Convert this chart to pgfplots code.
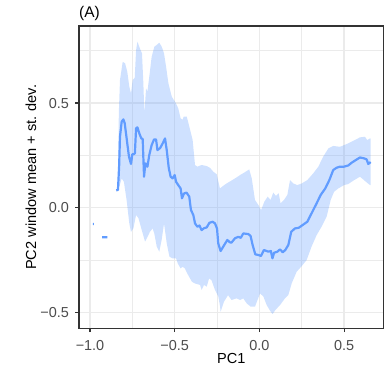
\documentclass[border=0pt]{standalone}
\usepackage{fontspec}
\setmainfont{Liberation Sans}
\usepackage{pgfplots}
\usepackage{pgfplotstable}
\pgfplotsset{compat=1.18}
\usepgfplotslibrary{fillbetween}

\definecolor{meanblue}{HTML}{619CFF}
\definecolor{grid92}{HTML}{EBEBEB}
\definecolor{gray20}{HTML}{333333}
\definecolor{gray30}{HTML}{4D4D4D}

% window mean of PC2 along PC1 (nan = gap)
\pgfplotstableread{
x y
-0.983 -0.078
-0.977 -0.078
nan nan
-0.928 -0.141
-0.897 -0.141
nan nan
-0.845 0.083
-0.835 0.085
-0.828 0.200
-0.823 0.339
-0.813 0.411
-0.803 0.422
-0.795 0.403
-0.785 0.339
-0.770 0.244
-0.758 0.209
-0.750 0.256
-0.741 0.256
-0.735 0.260
-0.728 0.379
-0.720 0.384
-0.709 0.355
-0.697 0.331
-0.689 0.328
-0.681 0.148
-0.673 0.212
-0.661 0.196
-0.650 0.252
-0.636 0.299
-0.622 0.326
-0.610 0.326
-0.602 0.275
-0.586 0.285
-0.571 0.307
-0.557 0.331
-0.547 0.275
-0.535 0.190
-0.524 0.148
-0.512 0.140
-0.500 0.156
-0.492 0.124
-0.479 0.108
-0.465 0.092
-0.457 0.045
-0.445 0.068
-0.430 0.072
-0.414 0.053
-0.404 -0.011
-0.390 -0.035
-0.380 -0.075
-0.366 -0.091
-0.354 -0.085
-0.341 -0.107
-0.327 -0.098
-0.311 -0.094
-0.295 -0.072
-0.276 -0.067
-0.262 -0.075
-0.250 -0.100
-0.243 -0.170
-0.229 -0.207
-0.209 -0.180
-0.189 -0.154
-0.175 -0.165
-0.165 -0.167
-0.144 -0.146
-0.124 -0.139
-0.110 -0.144
-0.095 -0.123
-0.065 -0.126
-0.052 -0.135
-0.040 -0.178
-0.024 -0.223
-0.004 -0.226
0.009 -0.231
0.027 -0.202
0.053 -0.210
0.068 -0.207
0.077 -0.242
0.087 -0.215
0.106 -0.210
0.122 -0.199
0.138 -0.213
0.153 -0.202
0.171 -0.178
0.188 -0.115
0.210 -0.099
0.232 -0.096
0.255 -0.083
0.283 -0.067
0.308 -0.027
0.338 0.021
0.362 0.061
0.389 0.092
0.413 0.132
0.436 0.180
0.456 0.191
0.475 0.196
0.499 0.196
0.525 0.202
0.545 0.215
0.564 0.225
0.594 0.240
0.617 0.236
0.633 0.231
0.643 0.209
0.657 0.218
}\meantab

% mean + st. dev.
\pgfplotstableread{
x y
-0.835 0.084
-0.830 0.450
-0.823 0.610
-0.807 0.697
-0.793 0.690
-0.780 0.650
-0.768 0.578
-0.758 0.546
-0.748 0.610
-0.736 0.620
-0.728 0.753
-0.720 0.793
-0.705 0.760
-0.693 0.737
-0.685 0.594
-0.679 0.450
-0.669 0.570
-0.661 0.555
-0.650 0.626
-0.636 0.721
-0.620 0.769
-0.607 0.777
-0.591 0.788
-0.577 0.770
-0.563 0.737
-0.551 0.674
-0.537 0.594
-0.517 0.530
-0.498 0.506
-0.479 0.475
-0.465 0.427
-0.453 0.420
-0.447 0.435
-0.429 0.435
-0.419 0.405
-0.394 0.323
-0.380 0.204
-0.366 0.196
-0.341 0.204
-0.311 0.199
-0.291 0.190
-0.272 0.172
-0.252 0.160
-0.233 0.092
-0.213 0.105
-0.193 0.116
-0.164 0.130
-0.134 0.145
-0.114 0.156
-0.085 0.170
-0.060 0.183
-0.045 0.140
-0.026 0.037
-0.006 0.013
0.010 -0.011
0.030 0.030
0.049 0.053
0.066 0.037
0.082 0.072
0.098 0.056
0.114 0.069
0.125 0.021
0.145 0.037
0.165 0.061
0.181 0.132
0.200 0.116
0.224 0.108
0.250 0.116
0.283 0.132
0.318 0.164
0.348 0.196
0.377 0.244
0.407 0.283
0.436 0.295
0.476 0.291
0.515 0.304
0.555 0.320
0.594 0.336
0.623 0.339
0.637 0.323
0.653 0.331
0.657 0.330
}\uptab

% mean - st. dev.
\pgfplotstableread{
x y
-0.835 0.084
-0.827 0.100
-0.813 0.140
-0.800 0.124
-0.784 0.037
-0.768 -0.075
-0.758 -0.115
-0.744 -0.099
-0.728 -0.035
-0.714 -0.050
-0.700 -0.091
-0.675 -0.162
-0.661 -0.140
-0.646 -0.115
-0.630 -0.099
-0.620 -0.125
-0.606 -0.186
-0.591 -0.210
-0.577 -0.154
-0.563 -0.075
-0.547 -0.170
-0.531 -0.234
-0.512 -0.242
-0.492 -0.242
-0.482 -0.266
-0.465 -0.290
-0.453 -0.282
-0.440 -0.290
-0.426 -0.314
-0.398 -0.354
-0.380 -0.362
-0.350 -0.369
-0.341 -0.393
-0.327 -0.369
-0.311 -0.377
-0.297 -0.338
-0.283 -0.346
-0.262 -0.393
-0.242 -0.425
-0.232 -0.473
-0.229 -0.497
-0.209 -0.449
-0.185 -0.418
-0.164 -0.441
-0.134 -0.433
-0.114 -0.441
-0.095 -0.433
-0.075 -0.457
-0.051 -0.473
-0.026 -0.473
0.004 -0.409
0.024 -0.425
0.043 -0.465
0.063 -0.492
0.078 -0.508
0.094 -0.489
0.122 -0.465
0.151 -0.433
0.171 -0.417
0.191 -0.361
0.220 -0.306
0.250 -0.279
0.279 -0.250
0.308 -0.186
0.338 -0.131
0.367 -0.091
0.397 -0.043
0.421 0.037
0.441 0.076
0.466 0.092
0.500 0.108
0.525 0.113
0.554 0.129
0.594 0.148
0.629 0.124
0.653 0.108
0.657 0.108
}\lowtab

\begin{document}
\begin{tikzpicture}
\begin{axis}[
    scale only axis,
    width=304.7bp, height=302.5bp,
    xmin=-1.065, xmax=0.734,
    ymin=-0.577, ymax=0.868,
    axis line style={gray20, line width=1.1bp},
    xtick={-1,-0.5,0,0.5},
    xticklabels={−1.0,−0.5,0.0,0.5},
    ytick={-0.5,0,0.5},
    yticklabels={−0.5,0.0,0.5},
    minor xtick={-0.75,-0.25,0.25},
    minor ytick={-0.25,0.25,0.75},
    xtick pos=bottom, ytick pos=left,
    tick align=outside,
    major tick length=3.5bp, minor tick length=0pt,
    major tick style={gray20, line width=1.1bp},
    grid=both,
    major grid style={grid92, line width=1.2bp},
    minor grid style={grid92, line width=0.6bp},
    tick label style={font=\fontsize{14.5}{16}\selectfont, text=gray30, inner sep=0pt},
    xticklabel style={anchor=base, yshift=-18.2bp},
    yticklabel style={anchor=east, xshift=-6.3bp},
    xlabel={PC1},
    ylabel={PC2 window mean + st. dev.},
    label style={font=\fontsize{14.6}{16}\selectfont, inner sep=0pt},
    xlabel style={at={(axis description cs:0.5,-0.1173)}, anchor=base},
    ylabel style={at={(axis description cs:-0.141,0.5)}, anchor=base, rotate=0},
    title={(A)},
    every axis title shift=0pt,
    title style={at={(axis description cs:0,1.0287)}, anchor=base west, inner sep=0pt,
        font=\fontsize{15.5}{18}\selectfont},
    unbounded coords=jump,
]
\addplot[name path=up, draw=none, forget plot] table[x=x, y=y] {\uptab};
\addplot[name path=lo, draw=none, forget plot] table[x=x, y=y] {\lowtab};
\addplot[fill=meanblue, fill opacity=0.3, draw=none] fill between[of=up and lo];
\addplot[meanblue, line width=2.2bp, line join=round] table[x=x, y=y] {\meantab};
\end{axis}
\path (-79bp,-45.5bp) rectangle (311bp,328.5bp);
\end{tikzpicture}
\end{document}
